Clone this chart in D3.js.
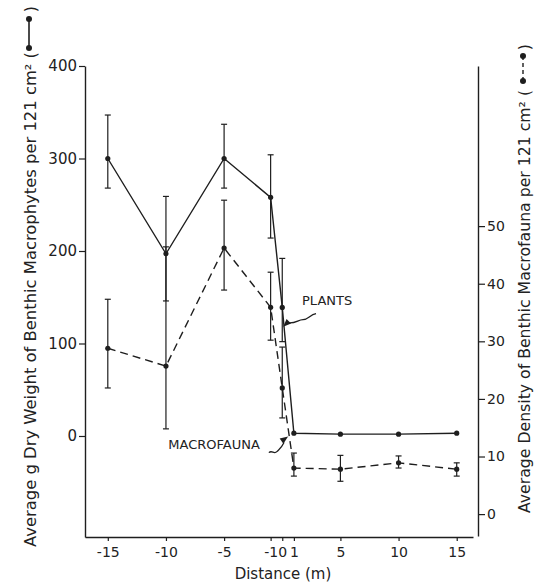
<!DOCTYPE html>
<html>
<head>
<meta charset="utf-8">
<script src="https://cdn.jsdelivr.net/npm/d3@7/dist/d3.min.js"></script>
<style>
  body { margin: 0; background: #fff; }
  svg { display: block; }
  text { font-family: "DejaVu Sans", sans-serif; fill: #222; }
</style>
</head>
<body>
<script>
// distance from the edge (m)
const distances = [-15, -10, -5, -1, 0, 1, 5, 10, 15];
const xTicks = [-15, -10, -5, -1, 0, 1, 5, 10, 15];

// plants: g dry weight per 121 cm2 (left axis)
const plants   = [300, 197, 300, 258, 139, 3, 2, 2, 3];
const plantsLo = [268, 146, 268, 214, 102, null, null, null, null];
const plantsHi = [347, 259, 337, 304, 192, null, null, null, null];
const leftTicks = [0, 100, 200, 300, 400];

// macrofauna: density per 121 cm2 (right axis)
const fauna   = [28.8, 25.7, 46.2, 35.9, 21.9, 8.0, 7.8, 8.9, 7.8];
const faunaLo = [21.9, 14.8, 38.9, 30.2, 16.7, 6.6, 5.7, 8.0, 6.6];
const faunaHi = [37.3, 46.4, 54.5, 42.0, 29.0, 10.6, 10.2, 10.1, 8.9];
const rightTicks = [0, 10, 20, 30, 40, 50];

const W = 543, H = 586;
const ink = "#1e1e1e";

const svg = d3.select("body").append("svg")
  .attr("width", W)
  .attr("height", H);

// scales (axis extents go a bit past the labelled ticks, like the original)
const x = d3.scaleLinear().domain([-16.96, 16.4]).range([85, 473]);
const yL = d3.scaleLinear().domain([-109.2, 400]).range([537, 66]);
const yR = d3.scaleLinear().domain([-3.8, 77.8]).range([536, 66]);

// axes
const gx = svg.append("g")
  .attr("transform", "translate(0,537)")
  .call(d3.axisBottom(x).tickValues(xTicks).tickSize(4).tickSizeOuter(0).tickPadding(6)
    .tickFormat(d => String(d)));

const gl = svg.append("g")
  .attr("transform", "translate(85,0)")
  .call(d3.axisLeft(yL).tickValues(leftTicks).tickSize(6).tickSizeOuter(0).tickPadding(2));

const gr = svg.append("g")
  .attr("transform", "translate(478,0)")
  .call(d3.axisRight(yR).tickValues(rightTicks).tickSize(7).tickSizeOuter(0).tickPadding(2));

[gx, gl, gr].forEach(g => {
  g.select(".domain").attr("stroke", ink).attr("stroke-width", 1.4);
  g.selectAll(".tick line").attr("stroke", ink).attr("stroke-width", 1.2);
  g.selectAll(".tick text").attr("fill", "#333").style("font-size", "14px")
    .style("font-family", "'DejaVu Sans', sans-serif");
});
gl.selectAll(".tick text").style("font-size", "15px");

// x axis title
svg.append("text")
  .attr("x", 283).attr("y", 579)
  .attr("text-anchor", "middle")
  .style("font-size", "15px")
  .text("Distance (m)");

// left axis title + legend glyph
svg.append("text")
  .attr("transform", "translate(36,547) rotate(-90)")
  .attr("textLength", 495)
  .attr("lengthAdjust", "spacingAndGlyphs")
  .style("font-size", "16px")
  .text("Average g Dry Weight of Benthic Macrophytes per 121 cm² (");
svg.append("text")
  .attr("transform", "translate(36,9) rotate(-90)")
  .attr("text-anchor", "middle")
  .style("font-size", "16px")
  .text(")");
svg.append("line")
  .attr("x1", 29).attr("x2", 29).attr("y1", 19).attr("y2", 48)
  .attr("stroke", ink).attr("stroke-width", 1.6);
svg.selectAll(".legL").data([19, 48]).join("circle")
  .attr("cx", 29).attr("cy", d => d).attr("r", 3).attr("fill", ink);

// right axis title + legend glyph
svg.append("text")
  .attr("transform", "translate(530,513) rotate(-90)")
  .attr("textLength", 423)
  .attr("lengthAdjust", "spacingAndGlyphs")
  .style("font-size", "16px")
  .text("Average Density of Benthic Macrofauna per 121 cm² (");
svg.append("text")
  .attr("transform", "translate(530,47) rotate(-90)")
  .attr("text-anchor", "middle")
  .style("font-size", "16px")
  .text(")");
svg.append("line")
  .attr("x1", 523).attr("x2", 523).attr("y1", 56).attr("y2", 81)
  .attr("stroke", ink).attr("stroke-width", 1.4).attr("stroke-dasharray", "4,3");
svg.selectAll(".legR").data([56, 81]).join("circle")
  .attr("cx", 523).attr("cy", d => d).attr("r", 3).attr("fill", ink);

// build rows
const plantRows = distances.map((d, i) => ({ d, v: plants[i], lo: plantsLo[i], hi: plantsHi[i] }));
const faunaRows = distances.map((d, i) => ({ d, v: fauna[i], lo: faunaLo[i], hi: faunaHi[i] }));

function drawSeries(rows, y, dash) {
  const g = svg.append("g");
  const bars = rows.filter(r => r.lo != null);
  g.selectAll(".eb").data(bars).join("line")
    .attr("x1", r => x(r.d)).attr("x2", r => x(r.d))
    .attr("y1", r => y(r.lo)).attr("y2", r => y(r.hi))
    .attr("stroke", ink).attr("stroke-width", 1.2);
  g.selectAll(".capT").data(bars).join("line")
    .attr("x1", r => x(r.d) - 3).attr("x2", r => x(r.d) + 3)
    .attr("y1", r => y(r.hi)).attr("y2", r => y(r.hi))
    .attr("stroke", ink).attr("stroke-width", 1.2);
  g.selectAll(".capB").data(bars).join("line")
    .attr("x1", r => x(r.d) - 3).attr("x2", r => x(r.d) + 3)
    .attr("y1", r => y(r.lo)).attr("y2", r => y(r.lo))
    .attr("stroke", ink).attr("stroke-width", 1.2);

  g.append("path")
    .datum(rows)
    .attr("fill", "none")
    .attr("stroke", ink)
    .attr("stroke-width", 1.4)
    .attr("stroke-dasharray", dash)
    .attr("d", d3.line().x(r => x(r.d)).y(r => y(r.v)));

  g.selectAll("circle").data(rows).join("circle")
    .attr("cx", r => x(r.d)).attr("cy", r => y(r.v))
    .attr("r", 2.6).attr("fill", ink);
}

drawSeries(plantRows, yL, null);
drawSeries(faunaRows, yR, "8,5");

// annotations
svg.append("text")
  .attr("x", x(1.7)).attr("y", yL(142))
  .style("font-size", "13px")
  .text("PLANTS");
svg.append("text")
  .attr("x", x(-9.8)).attr("y", yL(-14))
  .style("font-size", "13px")
  .text("MACROFAUNA");

function arrowHead(tx, ty, ang) {
  const L = 8, w = 3.2;
  const a = ang * Math.PI / 180;
  const bx = tx - L * Math.cos(a), by = ty - L * Math.sin(a);
  const px = -Math.sin(a) * w, py = Math.cos(a) * w;
  svg.append("path")
    .attr("d", `M${tx},${ty}L${bx + px},${by + py}L${bx - px},${by - py}Z`)
    .attr("fill", ink);
}

// PLANTS pointer
{
  const sx = x(1.7) + 14, sy = yL(142) + 9;
  const tx = x(0.08), ty = yL(118);
  svg.append("path")
    .attr("d", `M${sx},${sy} C${sx - 6},${sy + 1} ${sx - 8},${sy + 6} ${sx - 13},${sy + 6}` +
               ` C${sx - 18},${sy + 6} ${sx - 20},${sy + 10} ${tx + 5},${ty - 4}`)
    .attr("fill", "none").attr("stroke", ink).attr("stroke-width", 1.3);
  arrowHead(tx, ty, 135);
}

// MACROFAUNA pointer
{
  const sx = x(-1.15), sy = yL(-18);
  const tx = x(0.5), ty = yL(-0.5);
  svg.append("path")
    .attr("d", `M${sx},${sy} c3,-3 5,2 8,-1 c3,-3 4,-3 ${tx - sx - 12},${ty - sy + 7}`)
    .attr("fill", "none").attr("stroke", ink).attr("stroke-width", 1.3);
  arrowHead(tx, ty, -35);
}
</script>
</body>
</html>
